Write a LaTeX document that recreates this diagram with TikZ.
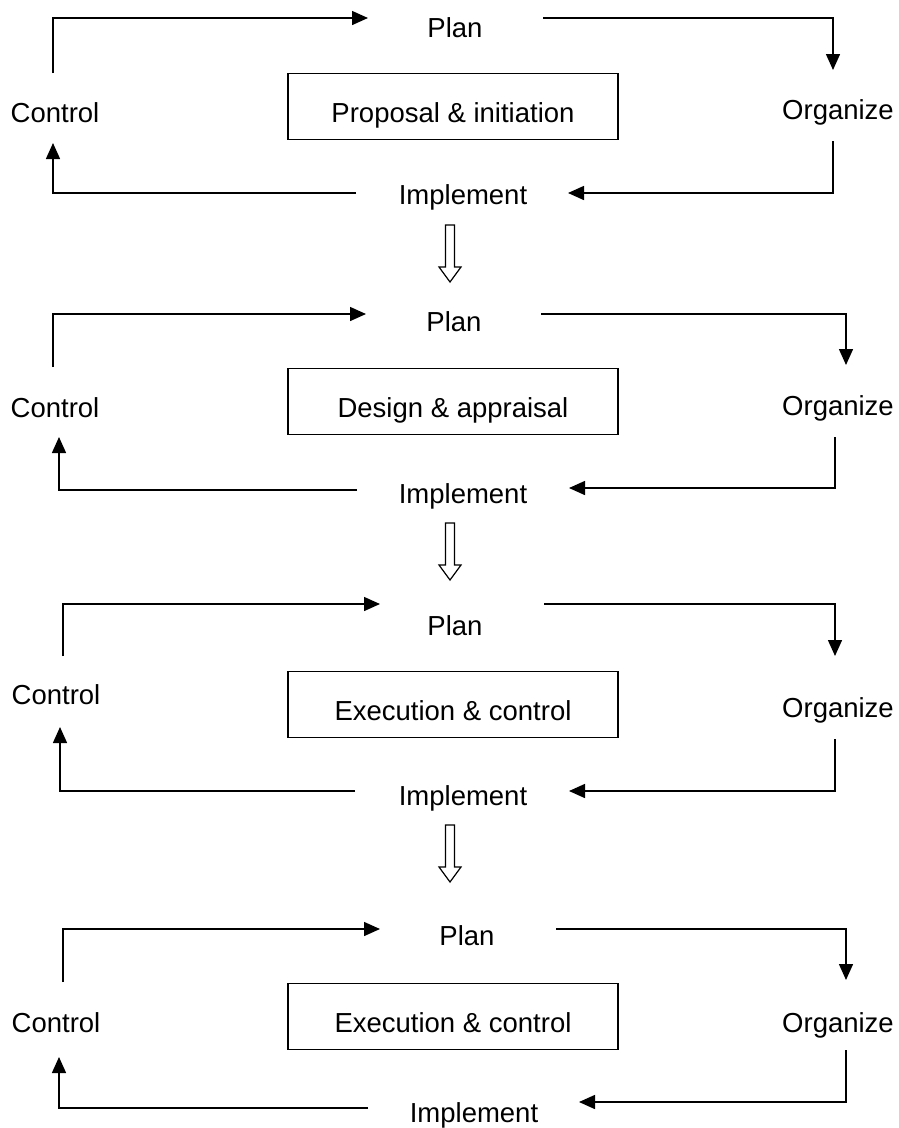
\documentclass[tikz,border=0pt]{standalone}
\usepackage{fontspec}
\setmainfont{Liberation Sans}
\usetikzlibrary{arrows.meta}

\begin{document}
\begin{tikzpicture}[x=1pt,y=-1pt]
\tikzset{LabelStyle/.style = {anchor=base, inner sep=0pt, font=\fontsize{27.5}{33}\selectfont},
         PhaseStyle/.style = {draw, line width=1.6pt, minimum width=330pt, minimum height=66pt,
                              inner sep=0pt, text height=32pt, text depth=0pt, font=\fontsize{27.5}{33}\selectfont},
         EdgeStyle/.style = {line width=1.5pt, -{Triangle[length=16pt,width=14pt]}},
         NextStyle/.style = {line width=1.2pt, line join=miter},
         next/.pic = {\draw[NextStyle] (-4.5,0) -- (-4.5,42) -- (-11,42) -- (0,57) -- (11,42) -- (4.5,42) -- (4.5,0) -- cycle;}}
\useasboundingbox (0,0) rectangle (898,1128);

% proposal & initiation
   \node[LabelStyle] (P1) at (455,37) {Plan};
   \node[LabelStyle] (C1) at (55,122) {Control};
   \node[LabelStyle] (O1) at (838,119) {Organize};
   \node[LabelStyle] (I1) at (463,204) {Implement};
   \node[PhaseStyle] (B1) at (453,106.5) {Proposal \& initiation};
   \coordinate (c1t) at (53,73);   \coordinate (p1i) at (368,18);
   \coordinate (p1o) at (543,18);  \coordinate (o1i) at (833,70);
   \coordinate (o1o) at (833,141); \coordinate (i1i) at (568,193);
   \coordinate (i1o) at (356,193); \coordinate (c1i) at (53,143);
   \draw[EdgeStyle] (c1t) |- (p1i);
   \draw[EdgeStyle] (p1o) -| (o1i);
   \draw[EdgeStyle] (o1o) |- (i1i);
   \draw[EdgeStyle] (i1o) -| (c1i);
   \coordinate (n1) at (450,225);
   \pic at (n1) {next};

% design & appraisal
   \node[LabelStyle] (P2) at (454,331) {Plan};
   \node[LabelStyle] (C2) at (55,417) {Control};
   \node[LabelStyle] (O2) at (838,415) {Organize};
   \node[LabelStyle] (I2) at (463,503) {Implement};
   \node[PhaseStyle] (B2) at (453,401.5) {Design \& appraisal};
   \coordinate (c2t) at (53,367);  \coordinate (p2i) at (366,314);
   \coordinate (p2o) at (541,314); \coordinate (o2i) at (846,365);
   \coordinate (o2o) at (835,437); \coordinate (i2i) at (569,488);
   \coordinate (i2o) at (357,490); \coordinate (c2i) at (59,437);
   \draw[EdgeStyle] (c2t) |- (p2i);
   \draw[EdgeStyle] (p2o) -| (o2i);
   \draw[EdgeStyle] (o2o) |- (i2i);
   \draw[EdgeStyle] (i2o) -| (c2i);
   \coordinate (n2) at (450,523);
   \pic at (n2) {next};

% execution & control
   \node[LabelStyle] (P3) at (455,635) {Plan};
   \node[LabelStyle] (C3) at (56,704) {Control};
   \node[LabelStyle] (O3) at (838,717) {Organize};
   \node[LabelStyle] (I3) at (463,805) {Implement};
   \node[PhaseStyle] (B3) at (453,704.5) {Execution \& control};
   \coordinate (c3t) at (63,656);  \coordinate (p3i) at (380,604);
   \coordinate (p3o) at (544,604); \coordinate (o3i) at (835,656);
   \coordinate (o3o) at (835,739); \coordinate (i3i) at (569,791);
   \coordinate (i3o) at (355,791); \coordinate (c3i) at (60,727);
   \draw[EdgeStyle] (c3t) |- (p3i);
   \draw[EdgeStyle] (p3o) -| (o3i);
   \draw[EdgeStyle] (o3o) |- (i3i);
   \draw[EdgeStyle] (i3o) -| (c3i);
   \coordinate (n3) at (450,825);
   \pic at (n3) {next};

% execution & control (again)
   \node[LabelStyle] (P4) at (467,945) {Plan};
   \node[LabelStyle] (C4) at (56,1032) {Control};
   \node[LabelStyle] (O4) at (838,1032) {Organize};
   \node[LabelStyle] (I4) at (474,1122) {Implement};
   \node[PhaseStyle] (B4) at (453,1016.5) {Execution \& control};
   \coordinate (c4t) at (63,982);   \coordinate (p4i) at (380,929);
   \coordinate (p4o) at (556,929);  \coordinate (o4i) at (846,980);
   \coordinate (o4o) at (846,1050); \coordinate (i4i) at (579,1102);
   \coordinate (i4o) at (368,1108); \coordinate (c4i) at (59,1057);
   \draw[EdgeStyle] (c4t) |- (p4i);
   \draw[EdgeStyle] (p4o) -| (o4i);
   \draw[EdgeStyle] (o4o) |- (i4i);
   \draw[EdgeStyle] (i4o) -| (c4i);

\end{tikzpicture}
\end{document}
